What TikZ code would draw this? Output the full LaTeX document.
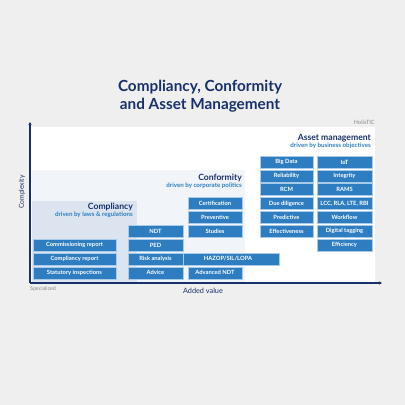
\documentclass[tikz,border=0pt]{standalone}
\usepackage{fontspec}
\setmainfont{Lato}
\usetikzlibrary{arrows.meta}
\definecolor{bg}{HTML}{EFEFEF}
\definecolor{navy}{HTML}{17306B}
\definecolor{boxblue}{HTML}{2D7DC0}
\definecolor{boxedge}{HTML}{A9CBEA}
\definecolor{compl}{HTML}{DCE4F0}
\definecolor{conf}{HTML}{F1F4F9}
\definecolor{subblue}{HTML}{2D7DC0}
\definecolor{graytxt}{HTML}{8A8A8A}
\begin{document}
\begin{tikzpicture}[x=1pt,y=-1pt,
  bx/.style={fill=boxblue,draw=boxedge,line width=0.6pt,minimum height=12pt,inner sep=0pt,
    text=white,font=\fontsize{5.8}{6.5}\selectfont\bfseries},
  colA/.style={bx,minimum width=83pt},
  colB/.style={bx,minimum width=55pt},
  colC/.style={bx,minimum width=54pt},
  colD/.style={bx,minimum width=53pt},
  colE/.style={bx,minimum width=55pt},
  head/.style={text=navy,font=\fontsize{8.6}{10}\selectfont\bfseries,anchor=east,inner sep=0pt},
  sub/.style={text=subblue,font=\fontsize{6.2}{7}\selectfont\bfseries,anchor=east,inner sep=0pt},
  axis/.style={draw=navy,line width=1.3pt,-{Stealth[length=3pt,width=3pt]}}
]
\fill[bg] (0,0) rectangle (405,405);
\useasboundingbox (0,0) rectangle (405,405);
% regions
\fill[white] (30,127) rectangle (375,283);
\fill[conf] (32,170) rectangle (245,282);
\fill[compl] (32,201) rectangle (137,282);
% title
\node[text=navy,font=\fontsize{15.3}{18}\selectfont\bfseries,align=center,inner sep=0pt] (title) at (200,96) {Compliancy, Conformity\\and Asset Management};
\node[text=graytxt,font=\fontsize{5.8}{6}\selectfont,anchor=east,inner sep=0pt] (brand) at (375,122) {HolisTIC};
% headings
\node[head] (hasset) at (371,138) {Asset management};
\node[sub] (sasset) at (371,145.5) {driven by business objectives};
\node[head] (hconf) at (242,178) {Conformity};
\node[sub] (sconf) at (242,186) {driven by corporate politics};
\node[head] (hcompl) at (133,207) {Compliancy};
\node[sub] (scompl) at (133,215) {driven by laws \& regulations};
% column A
\node[colA] (a7) at (74.5,245.1) {Commissioning report};
\node[colA] (a8) at (74.5,258.95) {Compliancy report};
\node[colA] (a9) at (74.5,272.8) {Statutory inspections};
% HAZOP
\node[bx,minimum width=102pt] (hazop) at (228,258.95) {HAZOP/SIL/LOPA};
% column B
\node[colB] (b6) at (155.5,231.25) {NDT};
\node[colB] (b7) at (155.5,245.1) {PED};
\node[colB] (b8) at (155.5,258.95) {Risk analysis};
\node[colB] (b9) at (155.5,272.8) {Advice};
% column C
\node[colC] (c4) at (215,203.55) {Certification};
\node[colC] (c5) at (215,217.4) {Preventive};
\node[colC] (c6) at (215,231.25) {Studies};
\node[colC] (c9) at (215,272.8) {Advanced NDT};
% column D
\node[colD] (d1) at (286.5,162) {Big Data};
\node[colD] (d2) at (286.5,175.85) {Reliability};
\node[colD] (d3) at (286.5,189.7) {RCM};
\node[colD] (d4) at (286.5,203.55) {Due diligence};
\node[colD] (d5) at (286.5,217.4) {Predictive};
\node[colD] (d6) at (286.5,231.25) {Effectiveness};
% column E
\node[colE] (e1) at (344.5,162) {IoT};
\node[colE] (e2) at (344.5,175.85) {Integrity};
\node[colE] (e3) at (344.5,189.7) {RAMS};
\node[colE] (e4) at (344.5,203.55) {LCC, RLA, LTE, RBI};
\node[colE] (e5) at (344.5,217.4) {Workflow};
\node[colE] (e6) at (344.5,231.25) {Digital tagging};
\node[colE] (e7) at (344.5,245.1) {Efficiency};
% axes
\coordinate (origin) at (30,283);
\coordinate (ytop) at (30,122);
\coordinate (xend) at (382,283);
\draw[axis] (origin) -- (ytop);
\draw[axis] (origin) -- (xend);
\node[text=navy,font=\fontsize{6.8}{7}\selectfont,rotate=90,inner sep=0pt] (ylab) at (22,192) {Complexity};
\node[text=navy,font=\fontsize{7.3}{8}\selectfont,inner sep=0pt] (xlab) at (203,291) {Added value};
\node[text=graytxt,font=\fontsize{5.3}{6}\selectfont,anchor=west,inner sep=0pt] (spec) at (30,289) {Specialized};
\end{tikzpicture}
\end{document}
